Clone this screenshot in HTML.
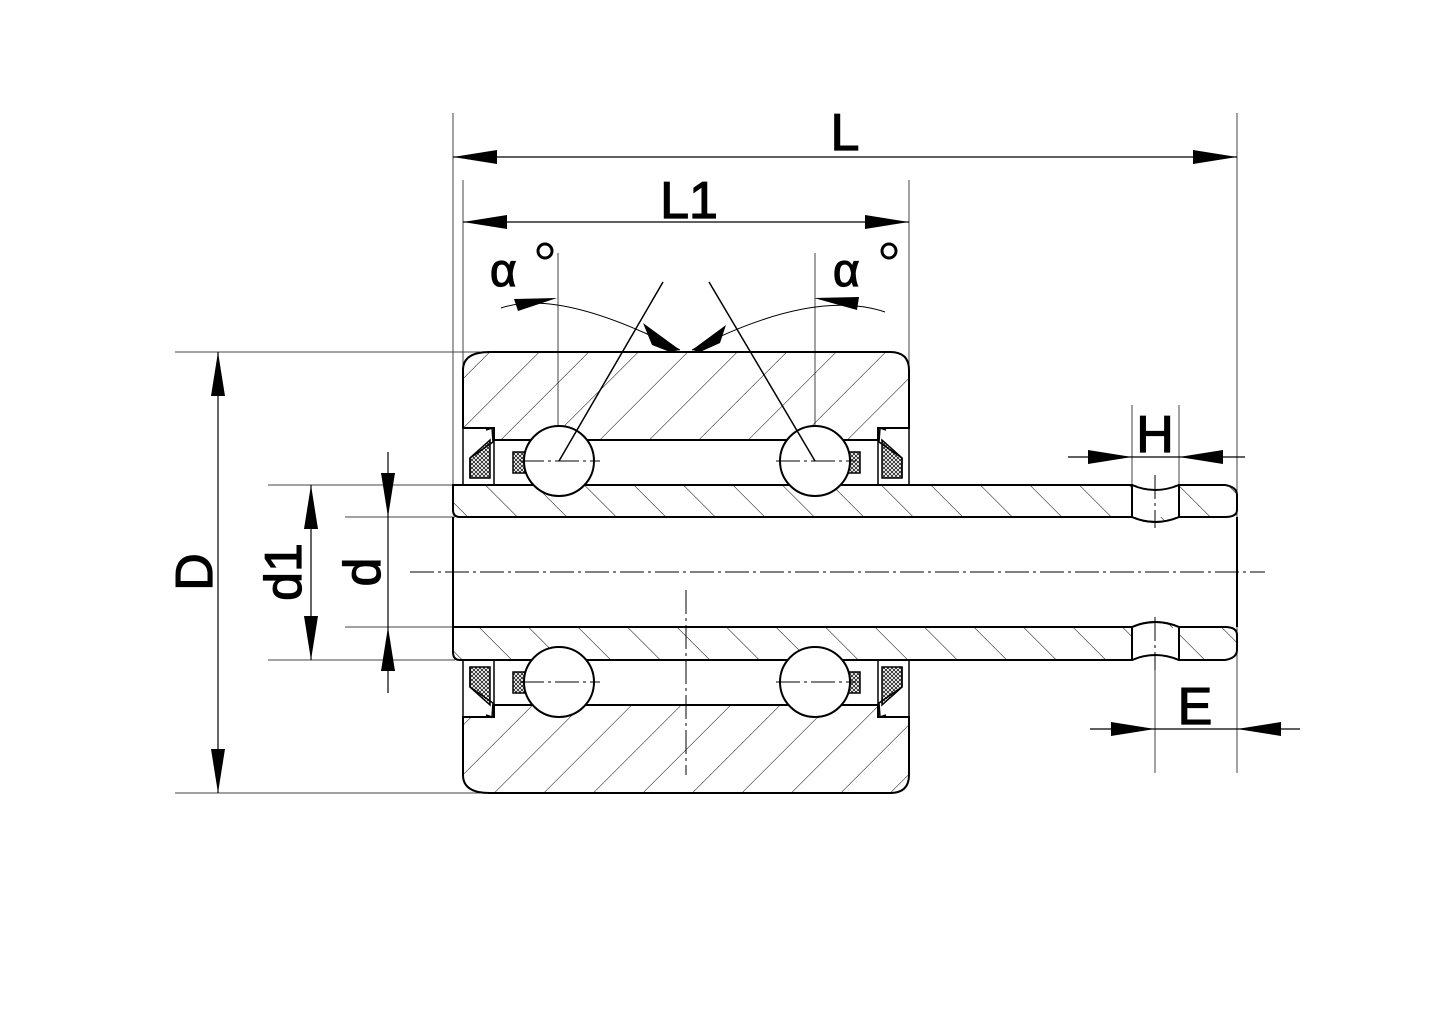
<!DOCTYPE html>
<html><head><style>html,body{margin:0;padding:0;background:#fff}svg{display:block}</style></head>
<body>
<svg width="1448" height="1024" viewBox="0 0 1448 1024" xmlns="http://www.w3.org/2000/svg" font-family="Liberation Sans, sans-serif">
<defs>
<pattern id="hf" patternUnits="userSpaceOnUse" width="35" height="35" patternTransform="rotate(45)">
<line x1="0" y1="0" x2="0" y2="35" stroke="#000" stroke-width="1"/></pattern>
<pattern id="hb" patternUnits="userSpaceOnUse" width="35" height="35" patternTransform="rotate(-45)">
<line x1="0" y1="0" x2="0" y2="35" stroke="#000" stroke-width="1"/></pattern>
<pattern id="xh" patternUnits="userSpaceOnUse" width="4" height="4">
<path d="M0 0L4 4M4 0L0 4" stroke="#000" stroke-width="0.7"/></pattern>
</defs>
<g stroke="#000" fill="none">
<g stroke-width="1" stroke="#444">
<line x1="453" y1="113" x2="453" y2="490"/>
<line x1="1237" y1="113" x2="1237" y2="773"/>
<line x1="463" y1="180" x2="463" y2="440"/>
<line x1="909" y1="180" x2="909" y2="440"/>
<line x1="175" y1="352" x2="480" y2="352"/>
<line x1="175" y1="793" x2="480" y2="793"/>
<line x1="268" y1="485" x2="455" y2="485"/>
<line x1="268" y1="660" x2="455" y2="660"/>
<line x1="345" y1="517" x2="455" y2="517"/>
<line x1="345" y1="627" x2="455" y2="627"/>
<line x1="1132" y1="405" x2="1132" y2="490"/>
<line x1="1179" y1="405" x2="1179" y2="490"/>
<line x1="1155" y1="640" x2="1155" y2="773"/>
<line x1="558" y1="253" x2="558" y2="470"/>
<line x1="815" y1="253" x2="815" y2="470"/>
</g>
<g stroke-width="1.2">
<line x1="453" y1="157" x2="1237" y2="157"/>
<line x1="463" y1="222" x2="909" y2="222"/>
<line x1="218" y1="352" x2="218" y2="793"/>
<line x1="311" y1="485" x2="311" y2="660"/>
<line x1="388" y1="452" x2="388" y2="693"/>
<line x1="1068" y1="457" x2="1245" y2="457"/>
<line x1="1090" y1="729" x2="1300" y2="729"/>
<path d="M501 308 Q560 288 680 350" stroke-width="1"/>
<path d="M885 312 Q813 288 692 350" stroke-width="1"/>
</g>
<g fill="#000" stroke="none">
<path d="M453 157L497 150L497 164Z"/><path d="M1237 157L1193 150L1193 164Z"/>
<path d="M463 222L507 215L507 229Z"/><path d="M909 222L865 215L865 229Z"/>
<path d="M218 352L211 396L225 396Z"/><path d="M218 793L211 749L225 749Z"/>
<path d="M311 485L304 529L318 529Z"/><path d="M311 660L304 616L318 616Z"/>
<path d="M388 517L381 473L395 473Z"/><path d="M388 627L381 671L395 671Z"/>
<path d="M1132 457L1088 450L1088 464Z"/><path d="M1179 457L1223 450L1223 464Z"/>
<path d="M1155 729L1111 722L1111 736Z"/><path d="M1237 729L1281 722L1281 736Z"/>
<path d="M557 298L514 299L518 311Z"/><path d="M814 298L859 297L857 310Z"/>
<path d="M680 350L643 323L652 345L670 352Z"/><path d="M692 350L726 325L720 343L700 352Z"/>
</g>
<path d="M463 370Q463 352 490 352L890 352Q909 352 909 370L909 428L878 428L878 440L494 440L494 428L463 428Z" fill="url(#hf)" stroke-width="2"/>
<path d="M463 775Q463 793 490 793L890 793Q909 793 909 775L909 717L878 717L878 705L494 705L494 717L463 717Z" fill="url(#hf)" stroke-width="2"/>
<g stroke-width="1.5">
<rect x="463" y="428" width="31" height="57"/><rect x="878" y="428" width="31" height="57"/>
<rect x="463" y="660" width="31" height="57"/><rect x="878" y="660" width="31" height="57"/>
<path d="M470 478L470 458L490 440L490 478Z" fill="url(#xh)"/>
<path d="M902 478L902 458L882 440L882 478Z" fill="url(#xh)"/>
<path d="M470 667L470 687L490 705L490 667Z" fill="url(#xh)"/>
<path d="M902 667L902 687L882 705L882 667Z" fill="url(#xh)"/>
<path d="M486 430L492 428L493 442L470 458L470 478"/>
<path d="M886 430L880 428L879 442L902 458L902 478"/>
<path d="M486 715L492 717L493 703L470 687L470 667"/>
<path d="M886 715L880 717L879 703L902 687L902 667"/>
<rect x="513" y="452" width="12" height="21" fill="url(#xh)"/>
<rect x="848" y="452" width="12" height="21" fill="url(#xh)"/>
<rect x="513" y="672" width="12" height="21" fill="url(#xh)"/>
<rect x="848" y="672" width="12" height="21" fill="url(#xh)"/>
</g>
<path d="M453 485L1132 485Q1155 495 1179 485L1225 485Q1237 487 1237 495L1237 510Q1237 517 1225 517L1179 517Q1155 527 1132 517L460 517Q453 517 453 510Z" fill="url(#hb)" stroke-width="2"/>
<path d="M453 627L1132 627Q1155 617 1179 627L1225 627Q1237 627 1237 635L1237 650Q1237 658 1225 660L1179 660Q1155 650 1132 660L460 660Q453 660 453 652Z" fill="url(#hb)" stroke-width="2"/>
<rect x="1133" y="486" width="45" height="31" fill="#fff" stroke="none"/>
<rect x="1133" y="628" width="45" height="31" fill="#fff" stroke="none"/>
<path d="M1132 485Q1155 495 1179 485M1132 517Q1155 527 1179 517M1132 485L1132 517M1179 485L1179 517" stroke-width="2"/>
<path d="M1132 627Q1155 617 1179 627M1132 660Q1155 650 1179 660M1132 627L1132 660M1179 627L1179 660" stroke-width="2"/>
<line x1="453" y1="517" x2="453" y2="627" stroke-width="2"/>
<line x1="1237" y1="517" x2="1237" y2="627" stroke-width="2"/>
<g fill="#fff" stroke-width="2">
<circle cx="559" cy="461" r="35"/><circle cx="815" cy="461" r="35"/>
<circle cx="559" cy="682" r="35"/><circle cx="815" cy="682" r="35"/>
</g>
<line x1="559" y1="461" x2="663" y2="282" stroke-width="1.5"/>
<line x1="815" y1="461" x2="709" y2="282" stroke-width="1.5"/>
<g stroke-width="1" stroke-dasharray="24 4 3 4">
<line x1="410" y1="572" x2="1265" y2="572"/>
<line x1="686" y1="590" x2="686" y2="775"/>
<line x1="1155" y1="475" x2="1155" y2="528"/>
<line x1="1155" y1="617" x2="1155" y2="670"/>
<line x1="520" y1="461" x2="600" y2="461"/><line x1="776" y1="461" x2="856" y2="461"/>
<line x1="520" y1="682" x2="600" y2="682"/><line x1="776" y1="682" x2="856" y2="682"/>
</g>
</g>
<g fill="#000" font-size="52" stroke="#000" stroke-width="1.2">
<text x="845" y="150" text-anchor="middle">L</text>
<text x="689" y="218" text-anchor="middle">L1</text>
<text x="1155" y="452" text-anchor="middle">H</text>
<text x="1195" y="724" text-anchor="middle">E</text>
<text transform="translate(212,572) rotate(-90)" text-anchor="middle">D</text>
<text transform="translate(301,572) rotate(-90)" text-anchor="middle">d1</text>
<text transform="translate(380,572) rotate(-90)" text-anchor="middle">d</text>
<text x="490" y="286" font-size="46">α</text>
<text x="833" y="286" font-size="46">α</text>
</g>
<g fill="none" stroke="#000" stroke-width="3">
<circle cx="545" cy="251" r="7"/>
<circle cx="889" cy="251" r="7"/>
</g>
</svg>
</body></html>
